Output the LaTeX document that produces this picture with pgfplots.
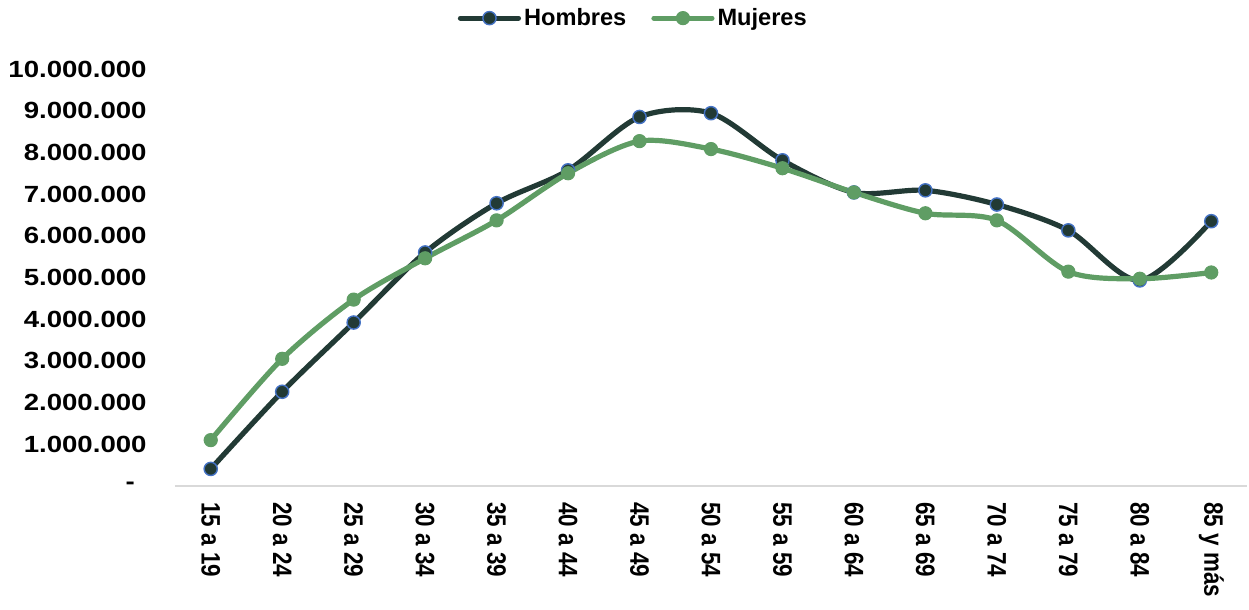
\documentclass[border=0pt]{standalone}
\usepackage{pgfplots}
\pgfplotsset{compat=1.18}
\usepackage{graphicx}
\usepackage{fontspec}
\setmainfont{Liberation Sans}
\definecolor{hom}{HTML}{223A35}
\definecolor{muj}{HTML}{5F9D64}
\definecolor{mblue}{HTML}{4472C4}
\definecolor{axgray}{HTML}{D9D9D9}
\newcommand\ylab[1]{\scalebox{1.18}[1]{#1}}
\newcommand\xlab[1]{\scalebox{1}[1.19]{#1}}
\begin{document}
\begin{tikzpicture}
\begin{axis}[
  scale only axis, width=536pt, height=208.5pt,
  xmin=-0.5, xmax=14.5, ymin=0, ymax=10000000,
  scaled y ticks=false,
  axis lines*=left,
  y axis line style={draw=none},
  x axis line style={draw=axgray, line width=1pt, -},
  tick style={draw=none},
  xtick={0,...,14},
  xticklabels={\xlab{15 a 19},\xlab{20 a 24},\xlab{25 a 29},\xlab{30 a 34},\xlab{35 a 39},\xlab{40 a 44},\xlab{45 a 49},\xlab{50 a 54},\xlab{55 a 59},\xlab{60 a 64},\xlab{65 a 69},\xlab{70 a 74},\xlab{75 a 79},\xlab{80 a 84},\xlab{85 y más}},
  xticklabel style={rotate=-90, anchor=west, inner sep=0pt, font=\fontsize{11.2}{13}\selectfont\bfseries},
  xticklabel shift=8pt,
  ytick={0,1000000,...,10000000},
  yticklabels={\ylab{-\hspace{5pt}},\ylab{1.000.000},\ylab{2.000.000},\ylab{3.000.000},\ylab{4.000.000},\ylab{5.000.000},\ylab{6.000.000},\ylab{7.000.000},\ylab{8.000.000},\ylab{9.000.000},\ylab{10.000.000}},
  yticklabel style={anchor=east, inner sep=0pt, font=\fontsize{11.7}{14}\selectfont\bfseries},
  yticklabel shift=14pt,
  /pgf/number format/assume math mode=true,
  legend columns=2,
  legend style={at={(0.428,1.122)}, anchor=center, draw=none, fill=none,
    font=\fontsize{11.8}{14}\selectfont\bfseries,
    /tikz/every even column/.append style={column sep=11pt},
    nodes={inner sep=1.5pt}},
  legend image code/.code={\draw[#1, mark repeat=2, mark phase=2] plot coordinates {(0pt,0pt)(14.5pt,0pt)(29pt,0pt)};},
  clip=false,
]
\addplot[color=hom, line width=2.6pt, smooth, line cap=round, line join=round,
  mark=*, mark size=3.3pt, mark options={fill=hom, draw=mblue, line width=0.7pt}]
  coordinates {(0,410000)(1,2260000)(2,3920000)(3,5600000)(4,6780000)(5,7570000)(6,8850000)(7,8940000)(8,7810000)(9,7040000)(10,7090000)(11,6750000)(12,6130000)(13,4930000)(14,6350000)};
\addlegendentry{Hombres}
\addplot[color=muj, line width=2.6pt, smooth, line cap=round, line join=round,
  mark=*, mark size=3.3pt, mark options={fill=muj, draw=muj, line width=0.5pt}]
  coordinates {(0,1100000)(1,3050000)(2,4470000)(3,5460000)(4,6370000)(5,7500000)(6,8270000)(7,8080000)(8,7620000)(9,7040000)(10,6540000)(11,6370000)(12,5140000)(13,4970000)(14,5120000)};
\addlegendentry{Mujeres}
\end{axis}
\pgfresetboundingbox
\path (-87.5pt,-62pt) rectangle (537pt,243pt);
\end{tikzpicture}
\end{document}
